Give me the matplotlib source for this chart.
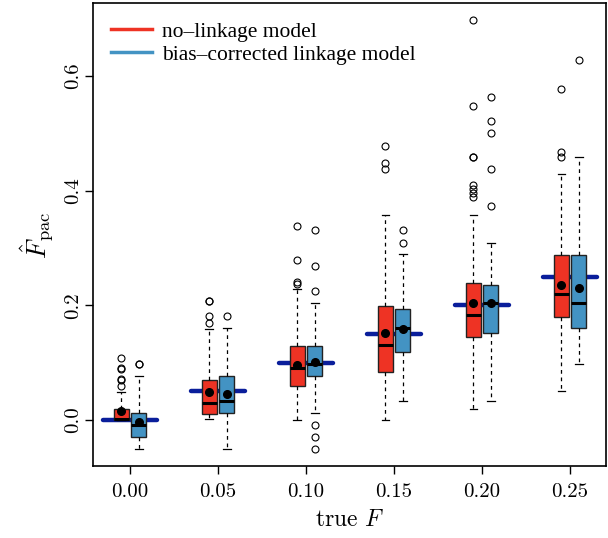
import matplotlib
matplotlib.use("Agg")
import matplotlib.pyplot as plt
from matplotlib.lines import Line2D

plt.rcParams['mathtext.fontset'] = 'cm'
plt.rcParams['axes.formatter.use_mathtext'] = True

# true F values (one group per value)
F_true = [0.00, 0.05, 0.10, 0.15, 0.20, 0.25]
x_labels = ["0.00", "0.05", "0.10", "0.15", "0.20", "0.25"]

# no-linkage model (red)
nolink_lo = [0.000, 0.002, 0.000, 0.000, 0.020, 0.051]
nolink_q1 = [0.000, 0.010, 0.060, 0.084, 0.144, 0.179]
nolink_med = [0.001, 0.030, 0.090, 0.130, 0.184, 0.219]
nolink_q3 = [0.020, 0.069, 0.129, 0.199, 0.239, 0.288]
nolink_hi = [0.048, 0.159, 0.229, 0.358, 0.358, 0.429]
nolink_mean = [0.015, 0.048, 0.096, 0.152, 0.204, 0.236]
nolink_out = [
    [0.059, 0.070, 0.071, 0.089, 0.090, 0.109],
    [0.170, 0.181, 0.207, 0.208],
    [0.238, 0.240, 0.279, 0.339],
    [0.438, 0.448, 0.478],
    [0.389, 0.396, 0.403, 0.410, 0.458, 0.459, 0.547, 0.697],
    [0.458, 0.468, 0.577],
]

# bias-corrected linkage model (blue)
bias_lo = [-0.051, -0.051, 0.013, 0.034, 0.034, 0.098]
bias_q1 = [-0.030, 0.013, 0.076, 0.118, 0.151, 0.161]
bias_med = [-0.009, 0.034, 0.098, 0.161, 0.204, 0.204]
bias_q3 = [0.012, 0.076, 0.129, 0.193, 0.235, 0.288]
bias_hi = [0.076, 0.161, 0.204, 0.289, 0.309, 0.458]
bias_mean = [-0.003, 0.045, 0.101, 0.158, 0.204, 0.231]
bias_out = [
    [0.097, 0.098],
    [0.182],
    [-0.051, -0.030, -0.009, 0.225, 0.268, 0.331],
    [0.309, 0.331],
    [0.373, 0.437, 0.501, 0.522, 0.564],
    [0.628],
]

red = '#EE3324'
blue = '#4393C3'
navy = '#0A1E9B'


def make_stats(lo, q1, med, q3, hi, mean, out):
    stats = []
    for i in range(len(lo)):
        stats.append(dict(whislo=lo[i], q1=q1[i], med=med[i], q3=q3[i],
                          whishi=hi[i], mean=mean[i], fliers=out[i]))
    return stats


fig = plt.figure(figsize=(6.08, 5.38), dpi=100)
ax = fig.add_axes([0.153, 0.133, 0.844, 0.861])

pos = list(range(1, len(F_true) + 1))

# reference lines at the true value
for p, f in zip(pos, F_true):
    ax.plot([p - 0.31, p + 0.31], [f, f], color=navy, lw=3.2,
            solid_capstyle='round', zorder=1)

for stats, off, col in [
        (make_stats(nolink_lo, nolink_q1, nolink_med, nolink_q3, nolink_hi, nolink_mean, nolink_out), -0.1, red),
        (make_stats(bias_lo, bias_q1, bias_med, bias_q3, bias_hi, bias_mean, bias_out), 0.1, blue)]:
    ax.bxp(stats, positions=[p + off for p in pos], widths=0.17,
           patch_artist=True, showmeans=True, manage_ticks=False,
           capwidths=0.085, zorder=3,
           boxprops=dict(facecolor=col, edgecolor='#222222', lw=1.0),
           medianprops=dict(color='black', lw=2.2),
           whiskerprops=dict(color='black', lw=0.9, linestyle=(0, (3, 3))),
           capprops=dict(color='black', lw=0.9),
           flierprops=dict(marker='o', markerfacecolor='none',
                           markeredgecolor='black', markersize=5, markeredgewidth=0.8),
           meanprops=dict(marker='o', markerfacecolor='black',
                          markeredgecolor='black', markersize=5.5))

ax.set_xlim(0.58, 6.41)
ax.set_ylim(-0.081, 0.727)
ax.set_xticks(pos)
ax.set_xticklabels(x_labels, fontsize=15, fontfamily='cmr10')
ax.set_yticks([0.0, 0.2, 0.4, 0.6])
ax.set_yticklabels(["0.0", "0.2", "0.4", "0.6"], fontsize=15,
                   fontfamily='cmr10', rotation=90, va='center')
ax.tick_params(length=6, width=1.0)
ax.tick_params(axis='x', pad=6)
ax.tick_params(axis='y', pad=2)
for s in ax.spines.values():
    s.set_linewidth(1.2)

ax.set_xlabel("true $F$", fontsize=17, fontfamily='cmr10', labelpad=6)
ax.set_ylabel(r"$\hat{F}_{\rm pac}$", fontsize=19, labelpad=6)

handles = [Line2D([0], [0], color=red, lw=2.5),
           Line2D([0], [0], color=blue, lw=2.5)]
ax.legend(handles, ["no\u2013linkage model", "bias\u2013corrected linkage model"],
          loc='upper left', frameon=False, prop=dict(family='Liberation Serif', size=15.5),
          handlelength=1.9, handletextpad=0.45, borderaxespad=0.45, labelspacing=0.15,
          borderpad=0.4)

fig.savefig("out.png", dpi=100)
